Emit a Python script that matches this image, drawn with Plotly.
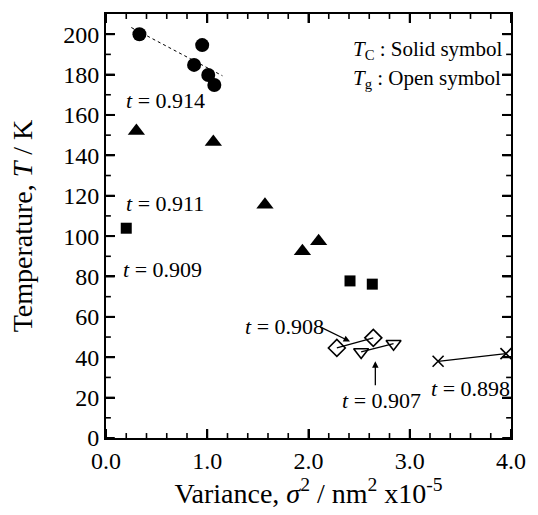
import plotly.graph_objects as go

# Solid symbols (T_C)
circ_x = [0.33, 0.87, 0.95, 1.01, 1.07]
circ_y = [200.0, 184.8, 194.6, 179.8, 174.8]
tri_x = [0.30, 1.06, 1.57, 1.94, 2.10]
tri_y = [152.0, 146.6, 115.5, 92.5, 97.5]
sq_x = [0.20, 2.41, 2.63]
sq_y = [103.9, 77.8, 76.2]
# fitted dashed line through circles
fit_x = [0.25, 1.15]
fit_y = [203.3, 179.4]
# Open symbols (T_g)
dia_x = [2.28, 2.64]
dia_y = [44.6, 49.6]
tdn_x = [2.52, 2.84]
tdn_y = [42.6, 46.7]
cross_x = [3.28, 3.95]
cross_y = [38.0, 41.8]

labels = ["<i>t</i> = 0.914", "<i>t</i> = 0.911", "<i>t</i> = 0.909",
          "<i>t</i> = 0.908", "<i>t</i> = 0.907", "<i>t</i> = 0.898"]
label_x = [0.18, 0.18, 0.15, 1.35, 2.31, 3.19]
label_y = [167, 116, 83.5, 55, 18.8, 24.6]

# tick positions
x_major = [0.0, 1.0, 2.0, 3.0, 4.0]
x_minor = [0.2, 0.4, 0.6, 0.8, 1.2, 1.4, 1.6, 1.8, 2.2, 2.4, 2.6, 2.8,
           3.2, 3.4, 3.6, 3.8]
y_major = [0, 20, 40, 60, 80, 100, 120, 140, 160, 180, 200]
y_minor = [10, 30, 50, 70, 90, 110, 130, 150, 170, 190]

FONT = "Liberation Serif"
fig = go.Figure()

fig.add_trace(go.Scatter(x=fit_x, y=fit_y, mode="lines",
                         line=dict(color="black", width=1, dash="dot")))
fig.add_trace(go.Scatter(x=circ_x, y=circ_y, mode="markers",
                         marker=dict(symbol="circle", size=14, color="black")))
fig.add_trace(go.Scatter(x=tri_x, y=tri_y, mode="markers",
                         marker=dict(symbol="triangle-up", size=15, color="black")))
fig.add_trace(go.Scatter(x=sq_x, y=sq_y, mode="markers",
                         marker=dict(symbol="square", size=11, color="black")))
fig.add_trace(go.Scatter(x=dia_x, y=dia_y, mode="lines+markers",
                         line=dict(color="black", width=1.3),
                         marker=dict(symbol="diamond-open", size=13, color="black",
                                     line=dict(width=1.6))))
fig.add_trace(go.Scatter(x=tdn_x, y=tdn_y, mode="lines+markers",
                         line=dict(color="black", width=1.3),
                         marker=dict(symbol="triangle-down-open", size=13, color="black",
                                     line=dict(width=1.6))))
fig.add_trace(go.Scatter(x=cross_x, y=cross_y, mode="lines+markers",
                         line=dict(color="black", width=1.3),
                         marker=dict(symbol="x-thin-open", size=11, color="black",
                                     line=dict(width=1.6))))

for t, lx, ly in zip(labels, label_x, label_y):
    fig.add_annotation(x=lx, y=ly, text=t, showarrow=False, xanchor="left",
                       yanchor="middle", font=dict(family=FONT, size=22, color="black"))

# arrows
fig.add_annotation(x=2.41, y=47.8, ax=2.10, ay=55.4, axref="x", ayref="y",
                   text="", showarrow=True, arrowhead=2, arrowsize=1, arrowwidth=1.3,
                   arrowcolor="black")
fig.add_annotation(x=2.66, y=38.0, ax=2.66, ay=25.4, axref="x", ayref="y",
                   text="", showarrow=True, arrowhead=2, arrowsize=1, arrowwidth=1.3,
                   arrowcolor="black")

fig.add_annotation(x=2.42, y=192, text="<i>T</i><sub>C</sub> : Solid symbol", showarrow=False,
                   xanchor="left", yanchor="middle", font=dict(family=FONT, size=21, color="black"))
fig.add_annotation(x=2.42, y=178, text="<i>T</i><sub>g</sub> : Open symbol", showarrow=False,
                   xanchor="left", yanchor="middle", font=dict(family=FONT, size=21, color="black"))

# inside tick marks on all four sides (drawn via axis scales)
PLOT_H = 515 - 13 - 75
PLOT_W = 538 - 106 - 16
MAJ, MIN = 9, 5
for vals, ln, w in [(x_major, MAJ, 2), (x_minor, MIN, 1.6)]:
    f = ln / PLOT_H
    for v in vals:
        fig.add_shape(type="line", xref="x", yref="paper", x0=v, x1=v, y0=0, y1=f,
                      line=dict(color="black", width=w), layer="above")
        fig.add_shape(type="line", xref="x", yref="paper", x0=v, x1=v, y0=1 - f, y1=1,
                      line=dict(color="black", width=w), layer="above")
for vals, ln, w in [(y_major, MAJ, 2), (y_minor, MIN, 1.6)]:
    f = ln / PLOT_W
    for v in vals:
        fig.add_shape(type="line", xref="paper", yref="y", x0=0, x1=f, y0=v, y1=v,
                      line=dict(color="black", width=w), layer="above")
        fig.add_shape(type="line", xref="paper", yref="y", x0=1 - f, x1=1, y0=v, y1=v,
                      line=dict(color="black", width=w), layer="above")

axis_common = dict(showgrid=False, zeroline=False, showline=True, linecolor="black",
                   linewidth=2, mirror="allticks", ticks="inside", ticklen=MAJ, tickwidth=2,
                   tickcolor="black", tickfont=dict(family=FONT, size=24, color="black"))
fig.update_xaxes(range=[0, 4.0], tickmode="array", tickvals=x_major,
                 ticktext=["0.0", "1.0", "2.0", "3.0", "4.0"],
                 title=dict(text="Variance, <i>σ</i><sup>2</sup> / nm<sup>2</sup> x10<sup>-5</sup>",
                            font=dict(family=FONT, size=28, color="black"), standoff=10),
                 **axis_common)
fig.update_yaxes(range=[0, 210], tickmode="array", tickvals=y_major,
                 title=dict(text="Temperature, <i>T</i> / K",
                            font=dict(family=FONT, size=28, color="black"), standoff=22),
                 **axis_common)

fig.update_layout(width=538, height=515, showlegend=False,
                  paper_bgcolor="white", plot_bgcolor="white",
                  margin=dict(l=106, r=16, t=13, b=75))
fig.write_html("out.html")
